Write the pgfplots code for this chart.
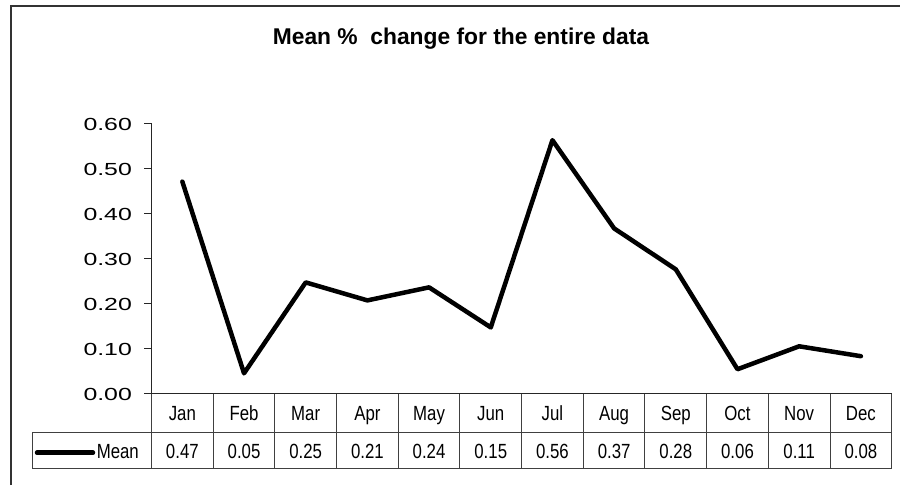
\documentclass[border=0pt]{standalone}
\usepackage{pgfplots}
\pgfplotsset{compat=1.18}
\usepackage{fontspec}
\setmainfont{Liberation Sans}
\begin{document}
\begin{tikzpicture}
\begin{scope}[x=1pt,y=1pt]
\path[use as bounding box] (0,0) rectangle (900,485);
\draw[line width=2pt, black!80] (10.7,0) -- (10.7,478.5) -- (900,478.5);
\node[font=\fontsize{22.8}{27}\selectfont\bfseries, anchor=base] at (461,440.7) {Mean \%\ \ change for the entire data};
\end{scope}
\begin{axis}[
  at={(151.5pt,91pt)}, anchor=south west, scale only axis,
  width=740.2pt, height=270pt,
  xmin=-0.5, xmax=11.5, ymin=0, ymax=0.6,
  axis x line*=bottom, axis y line*=left,
  axis line style={black!85, line width=1pt},
  xtick={0,1,2,3,4,5,6,7,8,9,10,11},
  xticklabels={Jan,Feb,Mar,Apr,May,Jun,Jul,Aug,Sep,Oct,Nov,Dec},
  x tick style={draw=none},
  xticklabel style={anchor=base, yshift=-19pt, font=\fontsize{20.5}{24}\selectfont, xscale=0.82},
  ytick={0,0.1,0.2,0.3,0.4,0.5,0.6},
  yticklabel style={font=\fontsize{17.5}{20}\selectfont, xscale=1.42, xshift=-5pt,
    /pgf/number format/fixed, /pgf/number format/fixed zerofill,
    /pgf/number format/precision=2, /pgf/number format/assume math mode=true},
  y tick style={black!85, line width=1pt},
  tick align=outside, major tick length=7.5pt,
  clip=false,
]
\addplot[black, line width=4.5pt, line join=round, line cap=round] coordinates {
  (0,0.472) (1,0.046) (2,0.248) (3,0.208) (4,0.237) (5,0.148)
  (6,0.564) (7,0.368) (8,0.277) (9,0.055) (10,0.106) (11,0.084)
};
\end{axis}
\begin{scope}[x=1pt,y=1pt]
% data table
\draw[black!75, line width=1pt] (32.3,52.7) -- (891.7,52.7);
\draw[black!75, line width=1pt] (32.3,16.7) -- (891.7,16.7);
\draw[black!75, line width=1pt] (32.3,16.7) -- (32.3,52.7);
\foreach \k in {0,...,12} {
  \draw[black!75, line width=1pt] ({151.5+61.683*\k},16.7) -- ({151.5+61.683*\k},91);
}
\draw[black, line width=4.5pt, line cap=round] (37,32.3) -- (93,32.3);
\node[anchor=base east, inner sep=0pt, font=\fontsize{20.5}{24}\selectfont, xscale=0.82] at (139,26.7) {Mean};
\foreach \v [count=\i from 0] in {0.47,0.05,0.25,0.21,0.24,0.15,0.56,0.37,0.28,0.06,0.11,0.08} {
  \node[anchor=base, inner sep=0pt, font=\fontsize{20.5}{24}\selectfont, xscale=0.82] at ({151.5+61.683*(\i+0.5)},26.7) {\v};
}
\end{scope}
\end{tikzpicture}
\end{document}
